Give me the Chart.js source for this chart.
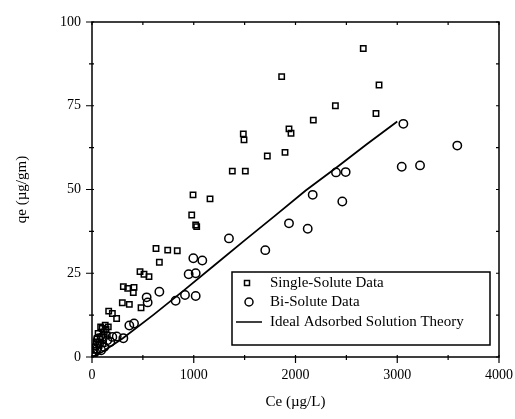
<!DOCTYPE html>
<html>
<head>
<meta charset="utf-8">
<script src="https://cdn.jsdelivr.net/npm/chart.js@4.4.1/dist/chart.umd.min.js"></script>
<style>
  html, body { margin: 0; padding: 0; background: #fff; }
  #wrap { width: 515px; height: 419px; position: relative; }
</style>
</head>
<body>
<div id="wrap"><canvas id="myChart"></canvas></div>
<script>
// single-solute data (squares)
const singleX = [2666, 1864, 2821, 2392, 2791, 2175, 1487, 1494, 1936, 1956, 1897, 1723, 1379, 1507,
    993, 1160, 980, 1019, 1029, 629, 744, 838, 662, 472, 511, 560, 308, 351, 413, 406, 298, 367,
    482, 164, 200, 242, 85, 138, 10, 20, 30, 40, 50, 60, 80, 100, 120, 150, 70, 110, 160, 130];
const singleY = [92.1, 83.7, 81.2, 75.0, 72.7, 70.7, 66.6, 64.8, 68.1, 66.8, 61.1, 60.0, 55.5, 55.5,
    48.4, 47.2, 42.4, 39.4, 38.9, 32.4, 31.9, 31.7, 28.3, 25.5, 24.7, 24.0, 21.0, 20.5, 20.8, 19.2, 16.2, 15.7,
    14.7, 13.7, 13.0, 11.5, 9.0, 8.3, 0.5, 2, 3, 4.5, 5.5, 7, 6, 8.5, 7.5, 6.5, 3.5, 4, 9, 9.5];

// bi-solute data (circles)
const biX = [3060, 3590, 3044, 3224, 2398, 2493, 2169, 2460, 1936, 2120, 1346, 1703, 996, 1084,
    950, 1019, 662, 537, 547, 822, 914, 1019, 413, 367, 308, 243,
    5, 15, 30, 50, 70, 90, 120, 150, 180, 200, 100, 60];
const biY = [69.6, 63.1, 56.8, 57.2, 55.1, 55.2, 48.4, 46.4, 39.9, 38.3, 35.4, 31.9, 29.5, 28.8,
    24.7, 25.0, 19.5, 17.8, 16.3, 16.8, 18.5, 18.2, 10.0, 9.4, 5.6, 6.1,
    0.3, 1, 1.5, 2.5, 4, 2, 3, 5, 4.5, 6, 6, 5.5];

// ideal adsorbed solution theory
const iastX = [0, 100, 300, 600, 900, 1200, 1500, 1800, 2100, 2400, 2700, 3000];
const iastY = [0, 1.5, 5.5, 12.5, 19.8, 27.3, 34.8, 42.2, 49.7, 56.5, 63.5, 70.3];

const xTicks = [0, 1000, 2000, 3000, 4000];
const yTicks = [0, 25, 50, 75, 100];

const seriesNames = ['Single-Solute Data', 'Bi-Solute Data', 'Ideal Adsorbed Solution Theory'];

const pts = (xs, ys) => xs.map((x, i) => ({x: x, y: ys[i]}));
const serif = "'Liberation Serif', 'Times New Roman', serif";

// frame, minor ticks and inside legend box
const framePlugin = {
    id: 'frame',
    afterDraw(chart) {
        const ctx = chart.ctx;
        const a = chart.chartArea;
        const xs = chart.scales.x, ys = chart.scales.y;
        ctx.save();
        ctx.strokeStyle = '#000';
        ctx.lineWidth = 1.5;
        ctx.strokeRect(a.left, a.top, a.right - a.left, a.bottom - a.top);

        ctx.lineWidth = 1.2;
        ctx.beginPath();
        for (let v = 0; v <= 4000; v += 500) {
            const px = xs.getPixelForValue(v);
            const major = v % 1000 === 0;
            ctx.moveTo(px, a.bottom - 2);
            ctx.lineTo(px, a.bottom + (major ? 6 : 3));
            ctx.moveTo(px, a.top);
            ctx.lineTo(px, a.top + 3);
        }
        for (let v = 0; v <= 100; v += 12.5) {
            const py = ys.getPixelForValue(v);
            const major = v % 25 === 0;
            ctx.moveTo(a.left - (major ? 6 : 3), py);
            ctx.lineTo(a.left + 2, py);
            ctx.moveTo(a.right, py);
            ctx.lineTo(a.right - 3, py);
        }
        ctx.stroke();

        // legend
        const lx = 232, ly = 272, lw = 258, lh = 73;
        ctx.lineWidth = 1.5;
        ctx.strokeRect(lx, ly, lw, lh);
        ctx.font = '15px ' + serif;
        ctx.fillStyle = '#000';
        ctx.textBaseline = 'middle';
        const rows = [283, 302, 322];
        rows.forEach((ry, i) => {
            ctx.fillText(seriesNames[i], 270, ry);
        });
        ctx.lineWidth = 1.5;
        ctx.strokeRect(244.5, 280.5, 5, 5);
        ctx.beginPath();
        ctx.arc(249, 302, 4, 0, Math.PI * 2);
        ctx.stroke();
        ctx.beginPath();
        ctx.moveTo(236, 322);
        ctx.lineTo(262, 322);
        ctx.stroke();
        ctx.restore();
    }
};

const data = {
    datasets: [{
        label: seriesNames[0],
        data: pts(singleX, singleY),
        pointStyle: 'rect',
        pointRadius: 3.8,
        borderWidth: 1.5,
        borderColor: '#000',
        backgroundColor: 'rgba(255,255,255,0)',
    },{
        label: seriesNames[1],
        data: pts(biX, biY),
        pointStyle: 'circle',
        pointRadius: 4.2,
        borderWidth: 1.5,
        borderColor: '#000',
        backgroundColor: 'rgba(255,255,255,0)',
    },{
        label: seriesNames[2],
        type: 'line',
        data: pts(iastX, iastY),
        showLine: true,
        pointRadius: 0,
        borderWidth: 1.8,
        borderColor: '#000',
        fill: false,
        tension: 0,
    }]
};

const config = {
    type: 'scatter',
    data: data,
    options: {
        responsive: true,
        maintainAspectRatio: false,
        animation: false,
        layout: {
            padding: {top: 22, right: 16, left: 0, bottom: 0}
        },
        scales: {
            x: {
                type: 'linear',
                min: 0,
                max: 4000,
                afterBuildTicks: (s) => { s.ticks = xTicks.map(v => ({value: v})); },
                afterFit: (s) => { s.height = 62; s.paddingLeft = 0; s.paddingRight = 0; },
                grid: {
                    display: false,
                    drawTicks: false,
                },
                border: { display: false },
                ticks: {
                    padding: 10,
                    color: '#000',
                    maxRotation: 0,
                    callback: (v) => String(v),
                    font: { family: serif, size: 14 }
                },
                title: {
                    display: true,
                    text: 'Ce (µg/L)',
                    color: '#000',
                    font: { family: serif, size: 15 },
                    padding: {top: 0, bottom: 8}
                }
            },
            y: {
                type: 'linear',
                min: 0,
                max: 100,
                afterBuildTicks: (s) => { s.ticks = yTicks.map(v => ({value: v})); },
                afterFit: (s) => { s.width = 92; s.paddingTop = 0; s.paddingBottom = 0; },
                grid: {
                    display: false,
                    drawTicks: false,
                },
                border: { display: false },
                ticks: {
                    padding: 11,
                    color: '#000',
                    callback: (v) => String(v),
                    font: { family: serif, size: 14 }
                },
                title: {
                    display: true,
                    text: 'qe (µg/gm)',
                    color: '#000',
                    font: { family: serif, size: 15 },
                    padding: {top: 13, bottom: 0}
                }
            }
        },
        plugins: {
            legend: { display: false },
            tooltip: { enabled: false }
        }
    },
    plugins: [framePlugin]
};

const myChart = new Chart(
    document.getElementById('myChart'),
    config
);
</script>
</body>
</html>
